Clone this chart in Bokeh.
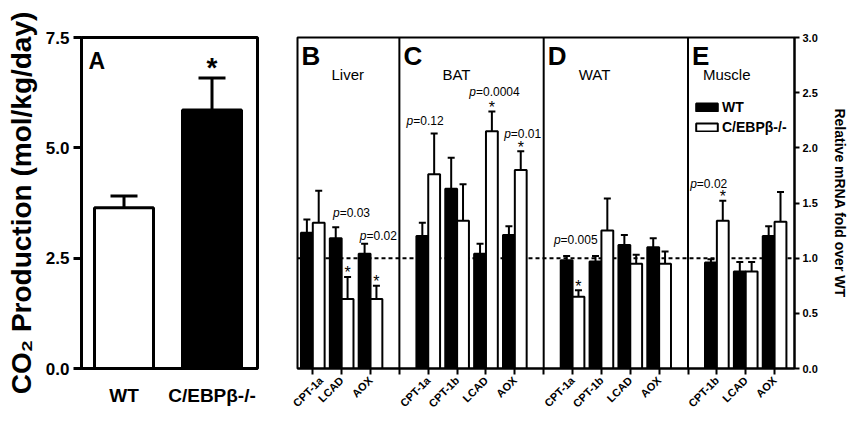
import math
from bokeh.plotting import figure
from bokeh.models import (ColumnDataSource, Range1d, FixedTicker, Whisker, TeeHead,
                          Span, Legend, LegendItem, NumeralTickFormatter, Label)
from bokeh.layouts import row
from bokeh.embed import file_html
from bokeh.resources import INLINE
from bokeh.core.properties import value

FONT = "Liberation Sans"

# ---------------- Panel A data: CO2 production ----------------
a_labels = ["WT", "C/EBPβ-/-"]
a_means = [3.64, 5.86]
a_sems = [0.27, 0.72]
a_fill = ["white", "black"]
a_sig = [False, True]
a_yticks = [0.0, 2.5, 5.0, 7.5]

# ---------------- Panels B-E data: relative mRNA ----------------
title_text = "Fatty Acid Oxidation Gene Expression"
panel_letters = ["B", "C", "D", "E"]
tissues = ["Liver", "BAT", "WAT", "Muscle"]
genes = [["CPT-1a", "LCAD", "AOX"],
         ["CPT-1a", "CPT-1b", "LCAD", "AOX"],
         ["CPT-1a", "CPT-1b", "LCAD", "AOX"],
         ["CPT-1b", "LCAD", "AOX"]]
wt_means = [[1.23, 1.18, 1.04], [1.20, 1.63, 1.04, 1.21], [0.98, 0.97, 1.12, 1.10], [0.96, 0.88, 1.20]]
wt_sems = [[0.12, 0.10, 0.09], [0.12, 0.28, 0.09, 0.08], [0.04, 0.05, 0.09, 0.08], [0.03, 0.085, 0.09]]
ko_means = [[1.32, 0.63, 0.63], [1.76, 1.34, 2.15, 1.80], [0.65, 1.25, 0.95, 0.95], [1.34, 0.88, 1.33]]
ko_sems = [[0.29, 0.20, 0.12], [0.37, 0.33, 0.18, 0.17], [0.06, 0.29, 0.08, 0.11], [0.18, 0.085, 0.27]]
r_yticks = [0.0, 0.5, 1.0, 1.5, 2.0, 2.5, 3.0]

# significance annotations (panel index, gene, p value, star)
sig_panel = [0, 0, 1, 1, 1, 2, 3]
sig_gene = ["LCAD", "AOX", "CPT-1a", "LCAD", "AOX", "CPT-1a", "CPT-1b"]
sig_p = ["0.03", "0.02", "0.12", "0.0004", "0.01", "0.005", "0.02"]
sig_star = [True, True, False, True, True, True, True]

# layout-only offsets (pixels)
p_dx = [-2, -4, -15, -10, -4, -12, -20]
p_dy = [14, 8, 12, 19, 17, 16, 17]
tissue_dx = [34, 43, 35, 15]

H = 427
WB = 560
B_LEFT, B_RIGHT, B_TOP = 7, 52, 35

# ======================= Panel A =======================
XA0, XA1 = -0.483, 1.517
pA = figure(width=290, height=H, x_range=Range1d(XA0, XA1), y_range=Range1d(0, 7.5),
            output_backend="svg", toolbar_location=None,
            min_border_left=81, min_border_right=33, min_border_top=37, min_border_bottom=56)
pA.xgrid.grid_line_color = None
pA.ygrid.grid_line_color = None
pA.outline_line_color = "black"
pA.outline_line_width = 3
pA.background_fill_color = "white"
pA.border_fill_color = "white"

a_x = list(range(len(a_labels)))
srcA = ColumnDataSource(dict(x=a_x, top=a_means, fill=a_fill,
                             upper=[m + s for m, s in zip(a_means, a_sems)]))
pA.add_layout(Whisker(source=srcA, base="x", lower="top", upper="upper", dimension="height",
                      lower_head=None, upper_head=TeeHead(size=27, line_width=3, line_color="black"),
                      line_width=3, line_color="black"))
pA.vbar(x="x", top="top", width=0.67, source=srcA, fill_color="fill", line_color="black", line_width=3)

pA.xaxis.ticker = FixedTicker(ticks=a_x)
pA.xaxis.major_label_overrides = {i: lab for i, lab in enumerate(a_labels)}
pA.xaxis.major_tick_line_color = None
pA.xaxis.minor_tick_line_color = None
pA.xaxis.axis_line_width = 3
pA.xaxis.major_label_text_font = FONT
pA.xaxis.major_label_text_font_style = "bold"
pA.xaxis.major_label_text_font_size = "19px"
pA.xaxis.major_label_text_color = "black"
pA.xaxis.major_label_standoff = 10

pA.yaxis.ticker = FixedTicker(ticks=a_yticks)
pA.yaxis.formatter = NumeralTickFormatter(format="0.0")
pA.yaxis.minor_tick_line_color = None
pA.yaxis.major_tick_out = 8
pA.yaxis.major_tick_in = 0
pA.yaxis.major_tick_line_width = 3
pA.yaxis.axis_line_width = 3
pA.yaxis.major_label_text_font = FONT
pA.yaxis.major_label_text_font_style = "bold"
pA.yaxis.major_label_text_font_size = "17px"
pA.yaxis.major_label_text_color = "black"
pA.yaxis.major_label_standoff = 4
pA.yaxis.axis_label = "CO₂ Production (mol/kg/day)"
pA.yaxis.axis_label_text_font = FONT
pA.yaxis.axis_label_text_font_style = "bold"
pA.yaxis.axis_label_text_font_size = "28px"
pA.yaxis.axis_label_text_color = "black"
pA.yaxis.axis_label_standoff = 6

pA.text(x=[XA0], y=[7.5], text=["A"], x_offset=7, y_offset=23, text_font=value(FONT),
        text_font_style="bold", text_font_size="23px", text_baseline="middle", text_align="left",
        text_color="black")
star_x = [x for x, s in zip(a_x, a_sig) if s]
star_y = [m + e for m, e, s in zip(a_means, a_sems, a_sig) if s]
pA.text(x=star_x, y=star_y, text=["*"] * len(star_x), y_offset=-11, text_font=value(FONT),
        text_font_style="bold", text_font_size="28px", text_baseline="middle", text_align="center",
        text_color="black")

# ======================= Panels B-E =======================
BW = 0.41
centers = []
dividers = []
tick_lab = {}
pos = 0
for k, g in enumerate(genes):
    cs = []
    for name in g:
        cs.append(pos)
        tick_lab[pos] = name
        pos += 1
    centers.append(cs)
    if k < len(genes) - 1:
        dividers.append(pos)
        tick_lab[pos] = ""
        pos += 1
X0 = -0.53
X1 = pos - 1 + 0.69
panel_left = [X0] + dividers

pB = figure(width=WB, height=H, x_range=Range1d(X0, X1), y_range=Range1d(0, 3.0),
            y_axis_location="right", output_backend="svg", toolbar_location=None,
            min_border_left=B_LEFT, min_border_right=B_RIGHT, min_border_top=B_TOP, min_border_bottom=59)
pB.xgrid.grid_line_color = None
pB.ygrid.grid_line_color = None
pB.outline_line_color = "black"
pB.outline_line_width = 2
pB.background_fill_color = "white"
pB.border_fill_color = "white"

# chart title, centred above the frame (canvas pixel units)
pB.add_layout(Label(x=B_LEFT + (WB - B_LEFT - B_RIGHT) / 2, y=B_TOP - 23,
                    x_units="canvas", y_units="canvas", text=title_text,
                    text_font=FONT, text_font_style="bold", text_font_size="13px",
                    text_align="center", text_baseline="middle", text_color="black"))

# reference line at 1.0 and panel dividers
pB.add_layout(Span(location=1.0, dimension="width", line_color="black", line_width=2,
                   line_dash="4 3", level="underlay"))
for d in dividers:
    pB.add_layout(Span(location=d, dimension="height", line_color="black", line_width=2))

flat = lambda lst: [v for sub in lst for v in sub]
cflat = flat(centers)
wt_src = ColumnDataSource(dict(x=[c - BW / 2 for c in cflat], top=flat(wt_means),
                               upper=[m + s for m, s in zip(flat(wt_means), flat(wt_sems))]))
ko_src = ColumnDataSource(dict(x=[c + BW / 2 for c in cflat], top=flat(ko_means),
                               upper=[m + s for m, s in zip(flat(ko_means), flat(ko_sems))]))
for src in (wt_src, ko_src):
    pB.add_layout(Whisker(source=src, base="x", lower="top", upper="upper", dimension="height",
                          lower_head=None, upper_head=TeeHead(size=7, line_width=2, line_color="black"),
                          line_width=2, line_color="black"))
wt_r = pB.vbar(x="x", top="top", width=BW, source=wt_src, fill_color="black", line_color="black", line_width=2)
ko_r = pB.vbar(x="x", top="top", width=BW, source=ko_src, fill_color="white", line_color="black", line_width=2)

# axes
pB.xaxis.ticker = FixedTicker(ticks=sorted(tick_lab.keys()))
pB.xaxis.major_label_overrides = tick_lab
pB.xaxis.major_label_orientation = math.pi / 4
pB.xaxis.major_label_text_font = FONT
pB.xaxis.major_label_text_font_style = "bold"
pB.xaxis.major_label_text_font_size = "11px"
pB.xaxis.major_label_text_color = "black"
pB.xaxis.major_label_standoff = 4
pB.xaxis.major_tick_out = 6
pB.xaxis.major_tick_in = 0
pB.xaxis.major_tick_line_width = 2
pB.xaxis.minor_tick_line_color = None
pB.xaxis.axis_line_width = 2

pB.yaxis.ticker = FixedTicker(ticks=r_yticks)
pB.yaxis.formatter = NumeralTickFormatter(format="0.0")
pB.yaxis.minor_tick_line_color = None
pB.yaxis.major_tick_out = 5
pB.yaxis.major_tick_in = 0
pB.yaxis.major_tick_line_width = 2
pB.yaxis.axis_line_width = 2
pB.yaxis.major_label_text_font = FONT
pB.yaxis.major_label_text_font_style = "bold"
pB.yaxis.major_label_text_font_size = "11px"
pB.yaxis.major_label_text_color = "black"
pB.yaxis.major_label_standoff = 3
pB.yaxis.axis_label = "Relative mRNA fold over WT"
pB.yaxis.axis_label_text_font = FONT
pB.yaxis.axis_label_text_font_style = "bold"
pB.yaxis.axis_label_text_font_size = "14px"
pB.yaxis.axis_label_text_color = "black"
pB.yaxis.axis_label_standoff = 11

# panel letters and tissue names
pB.text(x=panel_left, y=[3.0] * len(panel_left), text=panel_letters, x_offset=4, y_offset=18,
        text_font=value(FONT), text_font_style="bold", text_font_size="26px",
        text_baseline="middle", text_align="left", text_color="black")
pB.text(x=panel_left, y=[3.0] * len(panel_left), text=tissues, x_offset=tissue_dx, y_offset=37,
        text_font=value(FONT), text_font_size="15px",
        text_baseline="middle", text_align="left", text_color="black")

# p-values and stars
px, py, ptxt, sx, sy = [], [], [], [], []
for k, (pi_, gname, ptext, st) in enumerate(zip(sig_panel, sig_gene, sig_p, sig_star)):
    gi = genes[pi_].index(gname)
    c = centers[pi_][gi]
    wt_top = wt_means[pi_][gi] + wt_sems[pi_][gi]
    ko_top = ko_means[pi_][gi] + ko_sems[pi_][gi]
    px.append(c)
    py.append(max(wt_top, ko_top))
    ptxt.append("=" + ptext)
    if st:
        sx.append(c + BW / 2)
        sy.append(ko_top)
psrc = ColumnDataSource(dict(x=px, y=py, t=ptxt, p=["p"] * len(px), dx=p_dx, dy=[-d for d in p_dy]))
pB.text(x="x", y="y", text="p", x_offset="dx", y_offset="dy", source=psrc,
        text_font=value(FONT), text_font_style="italic", text_font_size="12px",
        text_baseline="middle", text_align="right", text_color="black")
pB.text(x="x", y="y", text="t", x_offset="dx", y_offset="dy", source=psrc,
        text_font=value(FONT), text_font_size="12px",
        text_baseline="middle", text_align="left", text_color="black")
pB.text(x=sx, y=sy, text=["*"] * len(sx), y_offset=-4, text_font=value(FONT),
        text_font_size="16px", text_baseline="middle", text_align="center", text_color="black")

legend = Legend(items=[LegendItem(label="WT", renderers=[wt_r]),
                       LegendItem(label="C/EBPβ-/-", renderers=[ko_r])],
                location=(396, 233), glyph_width=27, glyph_height=10, label_height=15,
                spacing=4, padding=0, margin=0, label_standoff=2,
                border_line_color=None, background_fill_alpha=0,
                label_text_font=FONT, label_text_font_style="bold", label_text_font_size="14px",
                label_text_color="black")
pB.add_layout(legend)

layout = row(pA, pB)
open("out.html", "w").write(file_html(layout, INLINE))
